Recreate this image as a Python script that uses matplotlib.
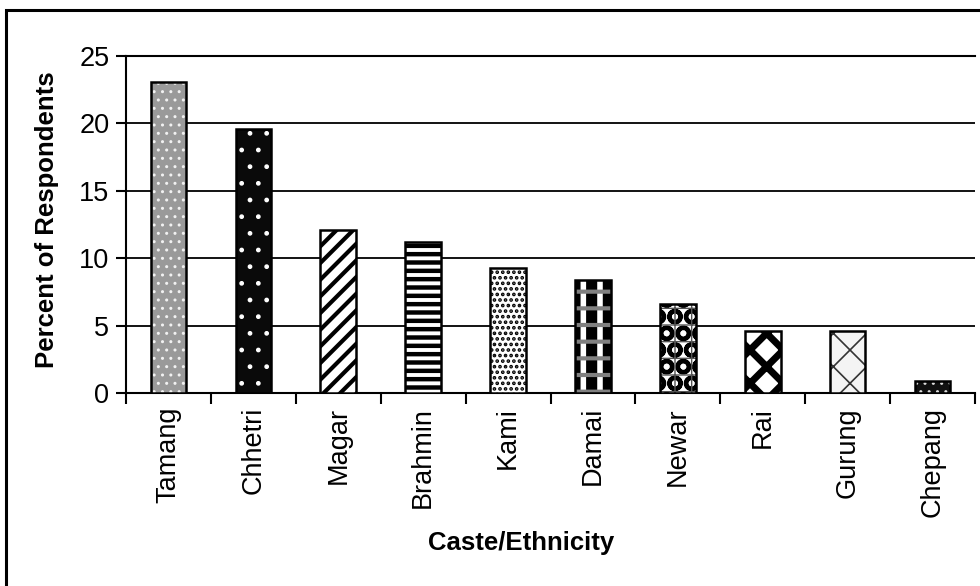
import numpy as np
import matplotlib
matplotlib.use("Agg")
import matplotlib.pyplot as plt
from matplotlib.patches import Rectangle
from matplotlib.ticker import FixedLocator, NullFormatter

plt.rcParams["font.family"] = ["Liberation Sans", "DejaVu Sans"]

# =============================================================================
# Data
# =============================================================================
castes = ["Tamang", "Chhetri", "Magar", "Brahmin", "Kami",
          "Damai", "Newar", "Rai", "Gurung", "Chepang"]
percent = [23.1, 19.6, 12.1, 11.2, 9.3, 8.4, 6.6, 4.6, 4.6, 0.9]
y_ticks = [0, 5, 10, 15, 20, 25]

# fill styles, one per bar: list of (facecolor, hatch, hatchcolor, hatch lw)
fills = [
    [("#9a9a9a", "..", "#f2f2f2", 1.0)],
    [("#0a0a0a", ".", "#ffffff", 1.0)],
    [("white", "//", "black", 3.0)],
    [("white", "--", "black", 3.2)],
    [("white", "...", "black", 1.8)],
    [("white", "|", "black", 8.0), ("none", "-", "#808080", 3.0)],
    [("white", "O", "black", 3.0), ("none", "+", "#555555", 1.0)],
    [("white", "x", "black", 5.0)],
    [("#f4f4f4", "x", "#333333", 1.2)],
    [("#111111", "..", "#dddddd", 1.0)],
]

# =============================================================================
# Plot
# =============================================================================
fig = plt.figure(figsize=(9.8, 5.86), dpi=100)
ax = fig.add_axes([126 / 980, 1 - 393 / 586, (975 - 126) / 980, (393 - 56) / 586])

x = np.arange(len(castes))
width = 0.42

for xi, val, layers in zip(x, percent, fills):
    for face, hatch, hcol, hlw in layers:
        bars = ax.bar(xi, val, width=width, color=face, edgecolor=hcol,
                      hatch=hatch, linewidth=0, zorder=3)
        for b in bars:
            if hasattr(b, "set_hatch_linewidth"):
                b.set_hatch_linewidth(hlw)
    ax.bar(xi, val, width=width, fill=False, edgecolor="black",
           linewidth=1.8, zorder=4)

ax.set_xlim(-0.5, len(castes) - 0.5)
ax.set_ylim(0, 25)
ax.set_yticks(y_ticks)
ax.yaxis.grid(True, color="black", linewidth=1.3, zorder=0)
ax.set_axisbelow(True)

# category labels at bar centres, tick marks on the boundaries
ax.set_xticks(x)
ax.set_xticklabels(castes, rotation=90, fontsize=19.5)
ax.xaxis.set_minor_locator(FixedLocator(np.arange(-0.5, len(castes), 1.0)))
ax.xaxis.set_minor_formatter(NullFormatter())
ax.tick_params(axis="x", which="major", length=0, pad=10)
ax.tick_params(axis="x", which="minor", length=8, width=1.5, direction="out")
ax.tick_params(axis="y", length=7, width=1.5, direction="out", labelsize=19.5, pad=5)

for side in ["left", "bottom", "top"]:
    ax.spines[side].set_linewidth(1.5)
    ax.spines[side].set_color("black")
ax.spines["right"].set_visible(False)

fig.text(47 / 980, 1 - 220 / 586, "Percent of Respondents", rotation=90,
         ha="center", va="center", fontsize=18.5, fontweight="bold")
fig.text(521 / 980, 1 - 543 / 586, "Caste/Ethnicity",
         ha="center", va="center", fontsize=18.5, fontweight="bold")

# outer chart border
fig.patches.append(Rectangle((6 / 980, -0.1), 1.2, 1.1 - 10 / 586, fill=False,
                             edgecolor="black", linewidth=2.2,
                             transform=fig.transFigure, figure=fig))

fig.savefig("out.png", dpi=100)
